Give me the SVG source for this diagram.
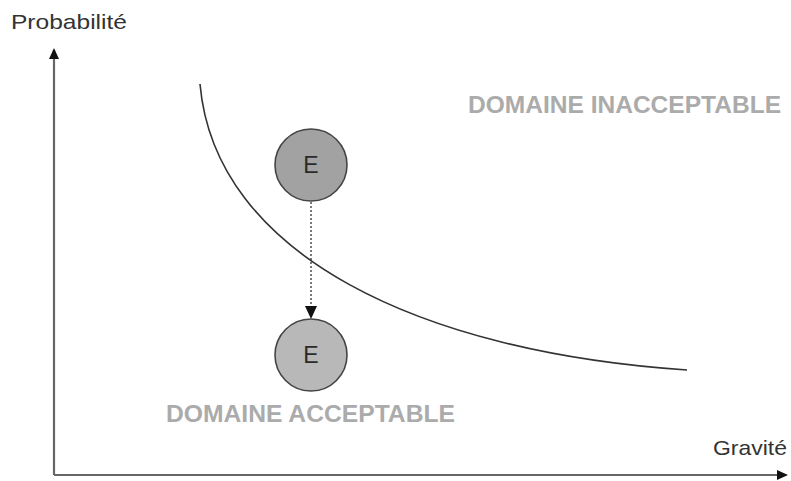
<svg xmlns="http://www.w3.org/2000/svg" width="791" height="481" viewBox="0 0 791 481">
  <style>
    .axis { stroke: #666; stroke-width: 2.2; fill: none; }
    .curve { stroke: #333; stroke-width: 1.6; fill: none; }
    .label { font-family: "Liberation Sans", Arial, sans-serif; font-size: 21px; fill: #333; }
    .zone { font-family: "Liberation Sans", Arial, sans-serif; font-size: 23px; font-weight: bold; fill: #ababab; }
    .node circle { stroke: #444; stroke-width: 1.6; }
    .node text { font-family: "Liberation Sans", Arial, sans-serif; font-size: 23px; fill: #2a2a2a; text-anchor: middle; }
    .move { stroke: #333; stroke-width: 1.3; stroke-dasharray: 2 2; fill: none; }
  </style>
  <defs>
    <marker id="axisHead" markerWidth="11" markerHeight="10" refX="9" refY="5" orient="auto" markerUnits="userSpaceOnUse">
      <path d="M0,0 L11,5 L0,10 Z" fill="#111"/>
    </marker>
    <marker id="moveHead" markerWidth="13" markerHeight="12" refX="12" refY="6" orient="auto" markerUnits="userSpaceOnUse">
      <path d="M0,0 L13,6 L0,12 Z" fill="#111"/>
    </marker>
  </defs>
  <rect width="791" height="481" fill="#fff"/>

  <!-- axes -->
  <g id="axes">
    <path class="axis" d="M54,475 L54,50" marker-end="url(#axisHead)"/>
    <path class="axis" d="M54,475 L786,475" marker-end="url(#axisHead)"/>
    <text class="label" x="11" y="29" textLength="116" lengthAdjust="spacingAndGlyphs">Probabilité</text>
    <text class="label" x="713" y="455" textLength="74" lengthAdjust="spacingAndGlyphs">Gravité</text>
  </g>

  <!-- acceptability boundary -->
  <path id="boundary" class="curve" d="M200,84 C215,255 420,352 687,370"/>

  <text class="zone" x="468" y="113" textLength="313" lengthAdjust="spacingAndGlyphs">DOMAINE INACCEPTABLE</text>
  <text class="zone" x="166" y="422" textLength="289" lengthAdjust="spacingAndGlyphs">DOMAINE ACCEPTABLE</text>

  <g id="connectors">
    <path class="move" d="M311,202 L311,318" marker-end="url(#moveHead)"/>
  </g>

  <g id="event-before" class="node">
    <circle cx="311" cy="165" r="36" fill="#a2a2a2"/>
    <text x="311" y="173">E</text>
  </g>
  <g id="event-after" class="node">
    <circle cx="311" cy="355" r="36" fill="#b8b8b8"/>
    <text x="311" y="363">E</text>
  </g>
</svg>
